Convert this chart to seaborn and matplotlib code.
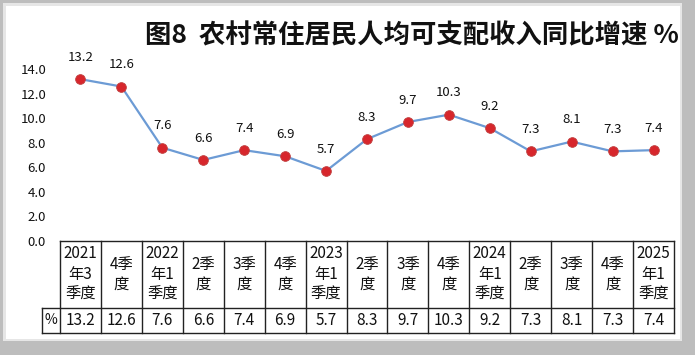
import matplotlib.pyplot as plt
import numpy as np
import pandas as pd
import seaborn as sns
from matplotlib.patches import Rectangle
from matplotlib.transforms import blended_transform_factory

# data
quarters = ["2021\n年3\n季度", "4季\n度", "2022\n年1\n季度", "2季\n度", "3季\n度",
            "4季\n度", "2023\n年1\n季度", "2季\n度", "3季\n度", "4季\n度",
            "2024\n年1\n季度", "2季\n度", "3季\n度", "4季\n度", "2025\n年1\n季度"]
growth = [13.2, 12.6, 7.6, 6.6, 7.4, 6.9, 5.7, 8.3, 9.7, 10.3, 9.2, 7.3, 8.1, 7.3, 7.4]
unit_label = "%"
title = "图8  农村常住居民人均可支配收入同比增速 %"

sns.set_theme(style="white")
plt.rcParams['font.family'] = ['Noto Sans CJK SC', 'DejaVu Sans']

df = pd.DataFrame({"pos": np.arange(len(quarters)), "growth": growth})

fig = plt.figure(figsize=(6.95, 3.55), dpi=100)
fig.patch.set_facecolor('#bdbdbd')
# white panel with grey frame / shadow
fig.patches.append(Rectangle((3 / 695, 14 / 355), 679 / 695, 338 / 355,
                             transform=fig.transFigure, facecolor='#e6e6e6',
                             edgecolor='none', zorder=-2))
fig.patches.append(Rectangle((6 / 695, 16 / 355), 674 / 695, 333 / 355,
                             transform=fig.transFigure, facecolor='white',
                             edgecolor='none', zorder=-1))

ax = fig.add_axes([60 / 695, 0.322, 614 / 695, 0.517])
ax.set_facecolor('none')
ax.set_zorder(1)

sns.lineplot(data=df, x="pos", y="growth", ax=ax, color='#6C9BD5', linewidth=1.6,
             marker='o', markersize=7, markerfacecolor='#D7262C',
             markeredgecolor='#C04040', markeredgewidth=0.6, zorder=3)

for x, v in zip(df["pos"], df["growth"]):
    ax.annotate(f"{v:.1f}", (x, v), xytext=(0, 11), textcoords='offset points',
                ha='center', va='bottom', fontsize=9.5, color='#111111')

ax.set_xlim(-0.5, len(quarters) - 0.5)
ax.set_ylim(0, 15)
ax.set_yticks(np.arange(0, 15, 2))
ax.set_yticklabels([f"{t:.1f}" for t in np.arange(0, 15, 2)], fontsize=9.5, color='#111111')
ax.tick_params(axis='y', length=0, pad=10)
ax.set_xticks([])
ax.set_xlabel("")
ax.set_ylabel("")
for s in ax.spines.values():
    s.set_visible(False)

# data table under the axis
tr = blended_transform_factory(ax.transData, ax.transAxes)
h1, h2, pw = 0.365, 0.501, 0.44
n = len(quarters)
lk = dict(color='#222222', lw=1.0, transform=tr, clip_on=False, solid_capstyle='projecting')
ax.plot([-0.5, n - 0.5], [0, 0], **lk)
ax.plot([-0.5 - pw, n - 0.5], [-h1, -h1], **lk)
ax.plot([-0.5 - pw, n - 0.5], [-h2, -h2], **lk)
ax.plot([-0.5 - pw, -0.5 - pw], [-h1, -h2], **lk)
for i in range(n + 1):
    ax.plot([i - 0.5, i - 0.5], [0, -h2], **lk)

for i, (q, v) in enumerate(zip(quarters, growth)):
    ax.text(i, -h1 / 2, q, transform=tr, ha='center', va='center',
            fontsize=11, linespacing=1.25, color='#111111')
    ax.text(i, -(h1 + h2) / 2, f"{v:.1f}", transform=tr, ha='center', va='center',
            fontsize=11, color='#111111')
ax.text(-0.5 - pw / 2, -(h1 + h2) / 2, unit_label, transform=tr, ha='center',
        va='center', fontsize=10, color='#111111')

fig.text(0.592, 0.90, title, ha='center', va='center', fontsize=19,
         fontweight='bold', color='#111111')

fig.savefig("out.png", dpi=100)
